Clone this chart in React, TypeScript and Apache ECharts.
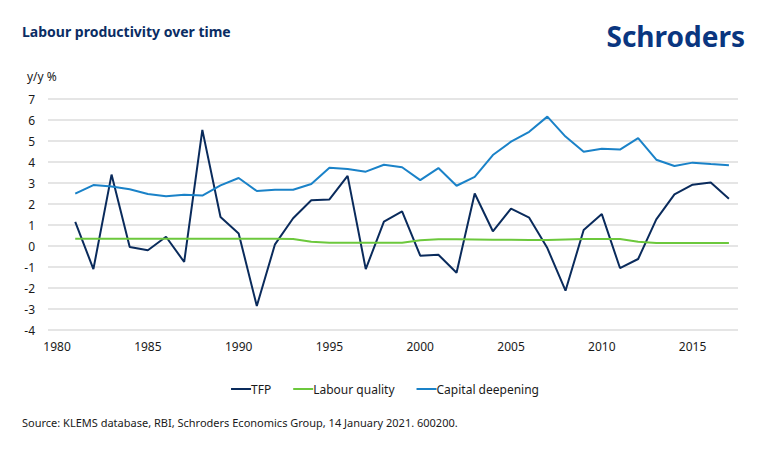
import React, { useEffect, useRef } from "react";
import * as echarts from "echarts";

const years: string[] = [];
for (let y = 1980; y <= 2017; y++) years.push(String(y));

// 1980 has no data (axis starts one category earlier)
const tfp = [
  null, 1.15, -1.1, 3.4, -0.05, -0.2, 0.44, -0.76, 5.53, 1.38, 0.6, -2.86, 0.08,
  1.32, 2.18, 2.22, 3.34, -1.1, 1.16, 1.65, -0.46, -0.42, -1.27, 2.5, 0.7, 1.78,
  1.35, -0.1, -2.13, 0.76, 1.52, -1.05, -0.62, 1.27, 2.46, 2.92, 3.02, 2.25,
];
const labourQuality = [
  null, 0.35, 0.35, 0.35, 0.35, 0.35, 0.35, 0.35, 0.35, 0.35, 0.35, 0.35, 0.35,
  0.33, 0.2, 0.16, 0.16, 0.16, 0.16, 0.16, 0.27, 0.32, 0.32, 0.31, 0.3, 0.3,
  0.29, 0.29, 0.31, 0.33, 0.33, 0.33, 0.2, 0.14, 0.14, 0.14, 0.14, 0.14,
];
const capitalDeepening = [
  null, 2.49, 2.9, 2.83, 2.7, 2.48, 2.37, 2.44, 2.4, 2.89, 3.24, 2.62, 2.68,
  2.68, 2.95, 3.73, 3.67, 3.54, 3.87, 3.75, 3.14, 3.71, 2.87, 3.29, 4.33, 4.97,
  5.44, 6.16, 5.21, 4.49, 4.63, 4.59, 5.14, 4.11, 3.81, 3.97, 3.9, 3.84,
];

const FONT = "'Noto Sans', 'Open Sans', sans-serif";

export default function App() {
  const ref = useRef<HTMLDivElement>(null);
  useEffect(() => {
    if (!ref.current) return;
    const chart = echarts.init(ref.current, undefined, { renderer: "svg" });
    chart.setOption({
      animation: false,
      backgroundColor: "#ffffff",
      textStyle: { fontFamily: FONT },
      grid: { left: 48, right: 32, top: 99, bottom: 125 },
      xAxis: {
        type: "category",
        data: years,
        boundaryGap: true,
        axisLine: { show: false },
        axisTick: { show: false },
        axisLabel: {
          interval: 4,
          color: "#1a1a1a",
          fontSize: 12,
          fontFamily: FONT,
          margin: 10,
        },
        splitLine: { show: false },
      },
      yAxis: {
        type: "value",
        min: -4,
        max: 7,
        interval: 1,
        axisLine: { show: false },
        axisTick: { show: false },
        axisLabel: { color: "#1a1a1a", fontSize: 12, fontFamily: FONT, margin: 13 },
        splitLine: { lineStyle: { color: "#dcdcdc", width: 1.5 } },
      },
      legend: {
        top: 378,
        left: "center",
        itemWidth: 20,
        itemHeight: 2,
        itemGap: 22,
        icon: "rect",
        textStyle: { color: "#1a1a1a", fontSize: 12, fontFamily: FONT, padding: [0, 0, 0, -5] },
        data: ["TFP", "Labour quality", "Capital deepening"],
      },
      graphic: [
        {
          type: "text",
          left: 22,
          top: 24,
          style: {
            text: "Labour productivity over time",
            font: `bold 14px ${FONT}`,
            fill: "#0b2d64",
          },
        },
        {
          type: "text",
          right: 25,
          top: 22,
          style: {
            text: "Schroders",
            font: `bold 28px ${FONT}`,
            fill: "#0a3680",
          },
        },
        {
          type: "text",
          left: 27,
          top: 70,
          style: { text: "y/y %", font: `12px ${FONT}`, fill: "#1a1a1a" },
        },
        {
          type: "text",
          left: 22,
          top: 417,
          style: {
            text: "Source: KLEMS database, RBI, Schroders Economics Group, 14 January 2021. 600200.",
            font: `11px ${FONT}`,
            fill: "#1a1a1a",
          },
        },
      ],
      series: [
        {
          name: "TFP",
          type: "line",
          data: tfp,
          symbol: "none",
          lineStyle: { color: "#0a2b5c", width: 2 },
          itemStyle: { color: "#0a2b5c" },
        },
        {
          name: "Labour quality",
          type: "line",
          data: labourQuality,
          symbol: "none",
          lineStyle: { color: "#6cc83c", width: 2 },
          itemStyle: { color: "#6cc83c" },
        },
        {
          name: "Capital deepening",
          type: "line",
          data: capitalDeepening,
          symbol: "none",
          lineStyle: { color: "#1a82c8", width: 2 },
          itemStyle: { color: "#1a82c8" },
        },
      ],
    });
    return () => chart.dispose();
  }, []);
  return (
    <div
      ref={ref}
      style={{ position: "absolute", left: 0, top: 0, width: 770, height: 455 }}
    />
  );
}
